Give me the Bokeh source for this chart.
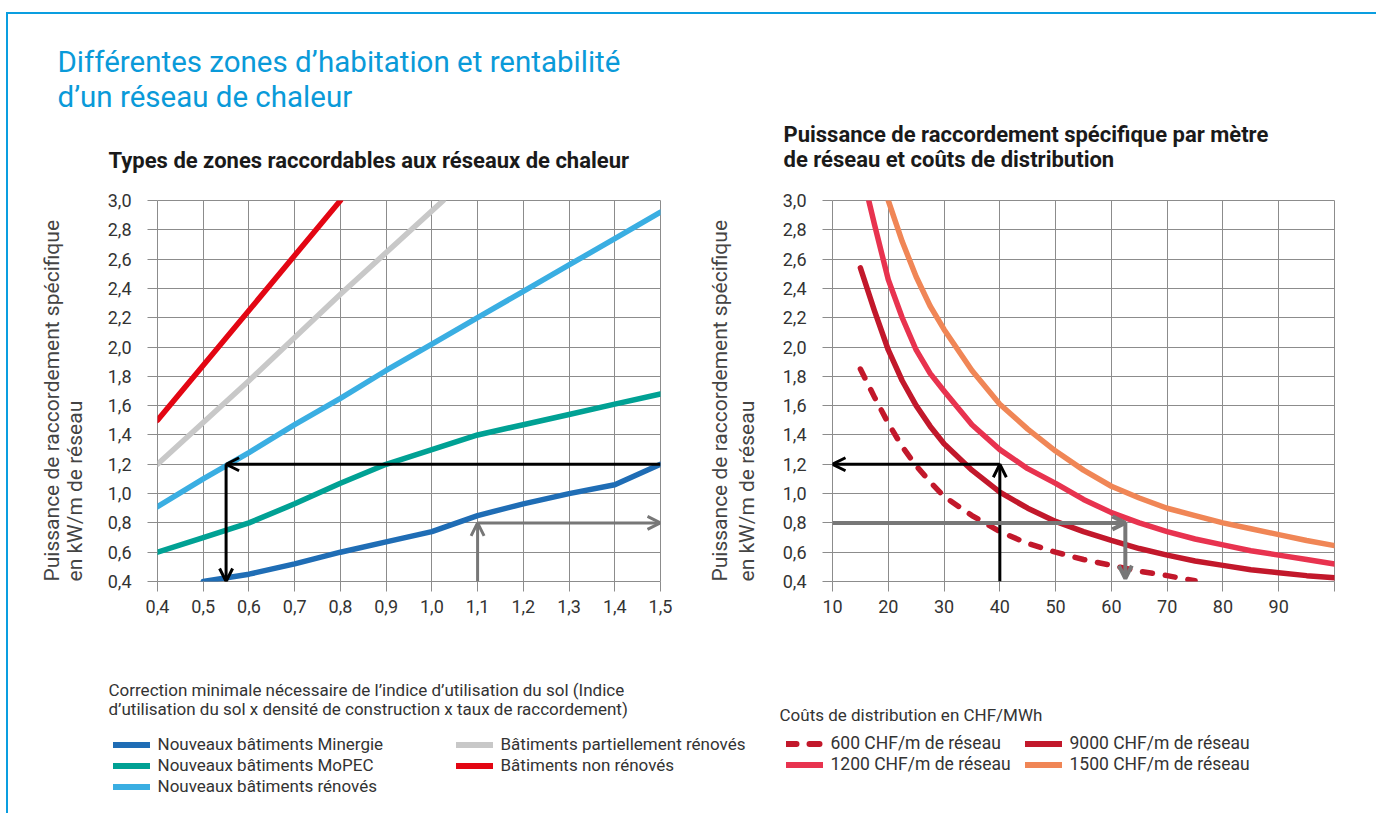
import math
from bokeh.plotting import figure
from bokeh.models import (Range1d, FixedTicker, CustomJSTickFormatter, Label, Legend,
                          LegendItem, Arrow, OpenHead)
from bokeh.layouts import row, column
from bokeh.embed import file_html
from bokeh.resources import INLINE

FONT = "Roboto"
GRID = "#8c8c8c"
TXT = "#333333"
BLUE = "#0a9ad9"

# ---------------- left chart data ----------------
left_x_ticks = [0.4, 0.5, 0.6, 0.7, 0.8, 0.9, 1.0, 1.1, 1.2, 1.3, 1.4, 1.5]
y_ticks = [0.4, 0.6, 0.8, 1.0, 1.2, 1.4, 1.6, 1.8, 2.0, 2.2, 2.4, 2.6, 2.8, 3.0]

minergie_x = [0.5, 0.6, 0.7, 0.8, 0.9, 1.0, 1.1, 1.2, 1.3, 1.4, 1.5]
minergie_y = [0.40, 0.45, 0.52, 0.60, 0.67, 0.74, 0.85, 0.93, 1.00, 1.06, 1.20]
mopec_x = [0.4, 0.5, 0.6, 0.7, 0.8, 0.9, 1.0, 1.1, 1.2, 1.3, 1.4, 1.5]
mopec_y = [0.60, 0.70, 0.80, 0.93, 1.07, 1.20, 1.30, 1.40, 1.47, 1.54, 1.61, 1.68]
renoves_x = [0.4, 0.5, 0.6, 0.7, 0.8, 0.9, 1.0, 1.1, 1.2, 1.3, 1.4, 1.5]
renoves_y = [0.91, 1.10, 1.28, 1.47, 1.65, 1.84, 2.02, 2.20, 2.38, 2.56, 2.74, 2.92]
partiel_x = [0.4, 0.6, 0.8, 1.025]
partiel_y = [1.20, 1.77, 2.36, 3.00]
non_renoves_x = [0.4, 0.8]
non_renoves_y = [1.50, 3.00]

left_names = ["Nouveaux bâtiments Minergie", "Nouveaux bâtiments MoPEC",
              "Nouveaux bâtiments rénovés", "Bâtiments partiellement rénovés",
              "Bâtiments non rénovés"]
left_colors = ["#1f6db5", "#00a194", "#3aaee2", "#c8c8c8", "#e30613"]
left_xs = [minergie_x, mopec_x, renoves_x, partiel_x, non_renoves_x]
left_ys = [minergie_y, mopec_y, renoves_y, partiel_y, non_renoves_y]

# arrows: (x_start, y_start, x_end, y_end)
left_arrows_black = [(1.5, 1.2, 0.55, 1.2), (0.55, 1.2, 0.55, 0.4)]
left_arrows_gray = [(1.1, 0.4, 1.1, 0.8), (1.1, 0.8, 1.5, 0.8)]

# ---------------- right chart data ----------------
right_x_ticks = [10, 20, 30, 40, 50, 60, 70, 80, 90, 100]

c600_x = [15, 17.5, 20, 22.5, 25, 27.5, 30, 35, 40, 45, 50, 55, 60, 65, 70, 75]
c600_y = [1.85, 1.66, 1.48, 1.32, 1.19, 1.08, 0.98, 0.85, 0.74, 0.66, 0.60, 0.55, 0.51, 0.47, 0.44, 0.405]
c9000_x = [15, 17.5, 20, 22.5, 25, 27.5, 30, 35, 40, 45, 50, 55, 60, 65, 70, 75, 80, 85, 90, 95, 100]
c9000_y = [2.54, 2.25, 1.98, 1.77, 1.60, 1.46, 1.34, 1.16, 1.01, 0.90, 0.81, 0.74, 0.68, 0.625, 0.58,
           0.54, 0.51, 0.48, 0.46, 0.44, 0.425]
c1200_x = [16.5, 17.5, 20, 22.5, 25, 27.5, 30, 35, 40, 45, 50, 55, 60, 65, 70, 75, 80, 85, 90, 95, 100]
c1200_y = [3.00, 2.84, 2.46, 2.20, 1.98, 1.82, 1.70, 1.47, 1.30, 1.17, 1.07, 0.96, 0.87, 0.80, 0.74,
           0.69, 0.65, 0.61, 0.58, 0.55, 0.52]
c1500_x = [20, 22.5, 25, 27.5, 30, 35, 40, 45, 50, 55, 60, 65, 70, 75, 80, 85, 90, 95, 100]
c1500_y = [3.00, 2.72, 2.48, 2.28, 2.12, 1.84, 1.61, 1.44, 1.29, 1.16, 1.05, 0.97, 0.90, 0.85, 0.80,
           0.76, 0.72, 0.68, 0.645]

right_names = ["600 CHF/m de réseau", "9000 CHF/m de réseau",
               "1200 CHF/m de réseau", "1500 CHF/m de réseau"]
right_colors = ["#c2182b", "#c2182b", "#e8334f", "#f08656"]
right_dashes = ["10 13", "solid", "solid", "solid"]
right_xs = [c600_x, c9000_x, c1200_x, c1500_x]
right_ys = [c600_y, c9000_y, c1200_y, c1500_y]

right_arrows_black = [(40, 1.2, 10, 1.2), (40, 0.4, 40, 1.2)]
right_arrows_gray = [(10, 0.8, 62.5, 0.8), (62.5, 0.8, 62.5, 0.42)]

# ---------------- layout geometry (pixels) ----------------
X0, X1 = 8, 1376          # content left / right
Y_TOP, Y_MID0, Y_MID1, Y_BOT = 14, 180, 630, 813


def text_fig(x0, x1, y0, y1):
    """A blank figure whose data space equals page pixels (y grows downward)."""
    f = figure(width=x1 - x0, height=y1 - y0, x_range=Range1d(x0, x1), y_range=Range1d(y1, y0),
               output_backend="svg", toolbar_location=None,
               x_axis_location=None, y_axis_location=None, min_border=0)
    f.outline_line_color = None
    f.grid.visible = False
    f.background_fill_color = "white"
    f.border_fill_color = "white"
    return f


def add_text(f, x, y, text, size, color=TXT, style="normal", angle=0.0):
    f.add_layout(Label(x=x, y=y, text=text, text_font=FONT, text_font_size=size,
                       text_color=color, text_font_style=style, text_baseline="alphabetic",
                       text_align="left", angle=angle))


def make_chart(width, xr, xticks, xfmt, b_left, b_right):
    p = figure(width=width, height=Y_MID1 - Y_MID0, x_range=Range1d(*xr), y_range=Range1d(0.4, 3.0),
               output_backend="svg", toolbar_location=None,
               min_border_left=b_left, min_border_right=b_right,
               min_border_top=20, min_border_bottom=49)
    p.outline_line_color = GRID
    p.outline_line_width = 1
    p.background_fill_color = "white"
    p.border_fill_color = "white"
    p.xaxis.ticker = FixedTicker(ticks=xticks)
    p.yaxis.ticker = FixedTicker(ticks=y_ticks)
    p.xgrid.ticker = FixedTicker(ticks=xticks)
    p.ygrid.ticker = FixedTicker(ticks=y_ticks)
    p.xaxis.formatter = CustomJSTickFormatter(code=xfmt)
    p.yaxis.formatter = CustomJSTickFormatter(code="return tick.toFixed(1).replace('.', ',');")
    for g in (p.xgrid[0], p.ygrid[0]):
        g.grid_line_color = GRID
        g.grid_line_width = 1
    for ax in (p.xaxis[0], p.yaxis[0]):
        ax.axis_line_color = None
        ax.major_tick_line_color = GRID
        ax.major_tick_in = 0
        ax.major_tick_out = 10
        ax.minor_tick_line_color = None
        ax.major_label_text_font = FONT
        ax.major_label_text_font_size = "18px"
        ax.major_label_text_color = TXT
    p.yaxis.major_label_standoff = 16
    p.xaxis.major_label_standoff = 8
    return p


def add_arrows(p, arrows, color, width):
    for (xs, ys, xe, ye) in arrows:
        p.add_layout(Arrow(end=OpenHead(size=13, line_color=color, line_width=width),
                           x_start=xs, y_start=ys, x_end=xe, y_end=ye,
                           line_color=color, line_width=width))


# ---------------- charts ----------------
p1 = make_chart(600, (0.4, 1.5), left_x_ticks,
                "return tick.toFixed(1).replace('.', ',');", 59, 38)
for xs, ys, col in zip(left_xs, left_ys, left_colors):
    p1.line(xs, ys, line_color=col, line_width=5.5, line_cap="round", line_join="round")
add_arrows(p1, left_arrows_black, "black", 3)
add_arrows(p1, left_arrows_gray, "#777777", 3)

p2 = make_chart(X1 - 762, (10, 100), right_x_ticks,
                "return tick == 100 ? '' : tick.toFixed(0);", 70, 42)
for xs, ys, col, dash in zip(right_xs, right_ys, right_colors, right_dashes):
    p2.line(xs, ys, line_color=col, line_width=5.5, line_cap="round", line_join="round",
            line_dash=dash)
add_arrows(p2, right_arrows_black, "black", 3)
add_arrows(p2, right_arrows_gray, "#777777", 4)

# ---------------- rotated axis titles ----------------
y1 = text_fig(X0, 98, Y_MID0, Y_MID1)
add_text(y1, 51, 630, "Puissance de raccordement spécifique", "21px", "#444444", angle=math.pi / 2)
add_text(y1, 74, 630, "en kW/m de réseau", "21px", "#444444", angle=math.pi / 2)
y2 = text_fig(698, 762, Y_MID0, Y_MID1)
add_text(y2, 719, 630, "Puissance de raccordement spécifique", "21px", "#444444", angle=math.pi / 2)
add_text(y2, 746, 630, "en kW/m de réseau", "21px", "#444444", angle=math.pi / 2)

# ---------------- top titles ----------------
top = text_fig(X0, X1, Y_TOP, Y_MID0)
add_text(top, 57, 61, "Différentes zones d’habitation et rentabilité", "29.5px", BLUE)
add_text(top, 57, 96, "d’un réseau de chaleur", "29.5px", BLUE)
add_text(top, 108, 160, "Types de zones raccordables aux réseaux de chaleur", "22px", "#1a1a1a", "bold")
add_text(top, 783, 134, "Puissance de raccordement spécifique par mètre", "22px", "#1a1a1a", "bold")
add_text(top, 783, 159, "de réseau et coûts de distribution", "22px", "#1a1a1a", "bold")

# ---------------- bottom captions and legends ----------------
bot = text_fig(X0, X1, Y_MID1, Y_BOT)
add_text(bot, 108, 689, "Correction minimale nécessaire de l’indice d’utilisation du sol (Indice", "17px")
add_text(bot, 108, 708, "d’utilisation du sol x densité de construction x taux de raccordement)", "17px")
add_text(bot, 779, 714, "Coûts de distribution en CHF/MWh", "17px")

# legend swatches: same series drawn in the caption panel, outside its visible range
swatches = {}
for name, xs, ys, col in zip(left_names, left_xs, left_ys, left_colors):
    swatches[name] = bot.line(xs, ys, line_color=col, line_width=6, line_cap="round")
for name, xs, ys, col, dash in zip(right_names, right_xs, right_ys, right_colors, right_dashes):
    swatches[name] = bot.line(xs, ys, line_color=col, line_width=6, line_cap="round", line_dash=dash)


def add_legend(f, names, loc, size):
    leg = Legend(items=[LegendItem(label=n, renderers=[swatches[n]]) for n in names],
                 location=loc, orientation="vertical",
                 glyph_width=37, glyph_height=21, label_height=21, spacing=0,
                 padding=0, margin=0, label_standoff=8,
                 label_text_font=FONT, label_text_font_size=size,
                 label_text_color=TXT, border_line_color=None,
                 background_fill_alpha=0)
    f.add_layout(leg, "center")


add_legend(bot, left_names[:3], (104.5, 16.5), "17px")
add_legend(bot, left_names[3:], (447.5, 37.5), "17px")
add_legend(bot, [right_names[0], right_names[2]], (777.5, 38.5), "17.5px")
add_legend(bot, [right_names[1], right_names[3]], (1016.5, 38.5), "17.5px")

layout = column(top, row(y1, p1, y2, p2), bot,
                styles={"margin-top": "12px", "margin-left": "6px",
                        "border-top": "2px solid #0a9ee0", "border-left": "2px solid #0a9ee0"})

open("out.html", "w").write(file_html(layout, INLINE))
